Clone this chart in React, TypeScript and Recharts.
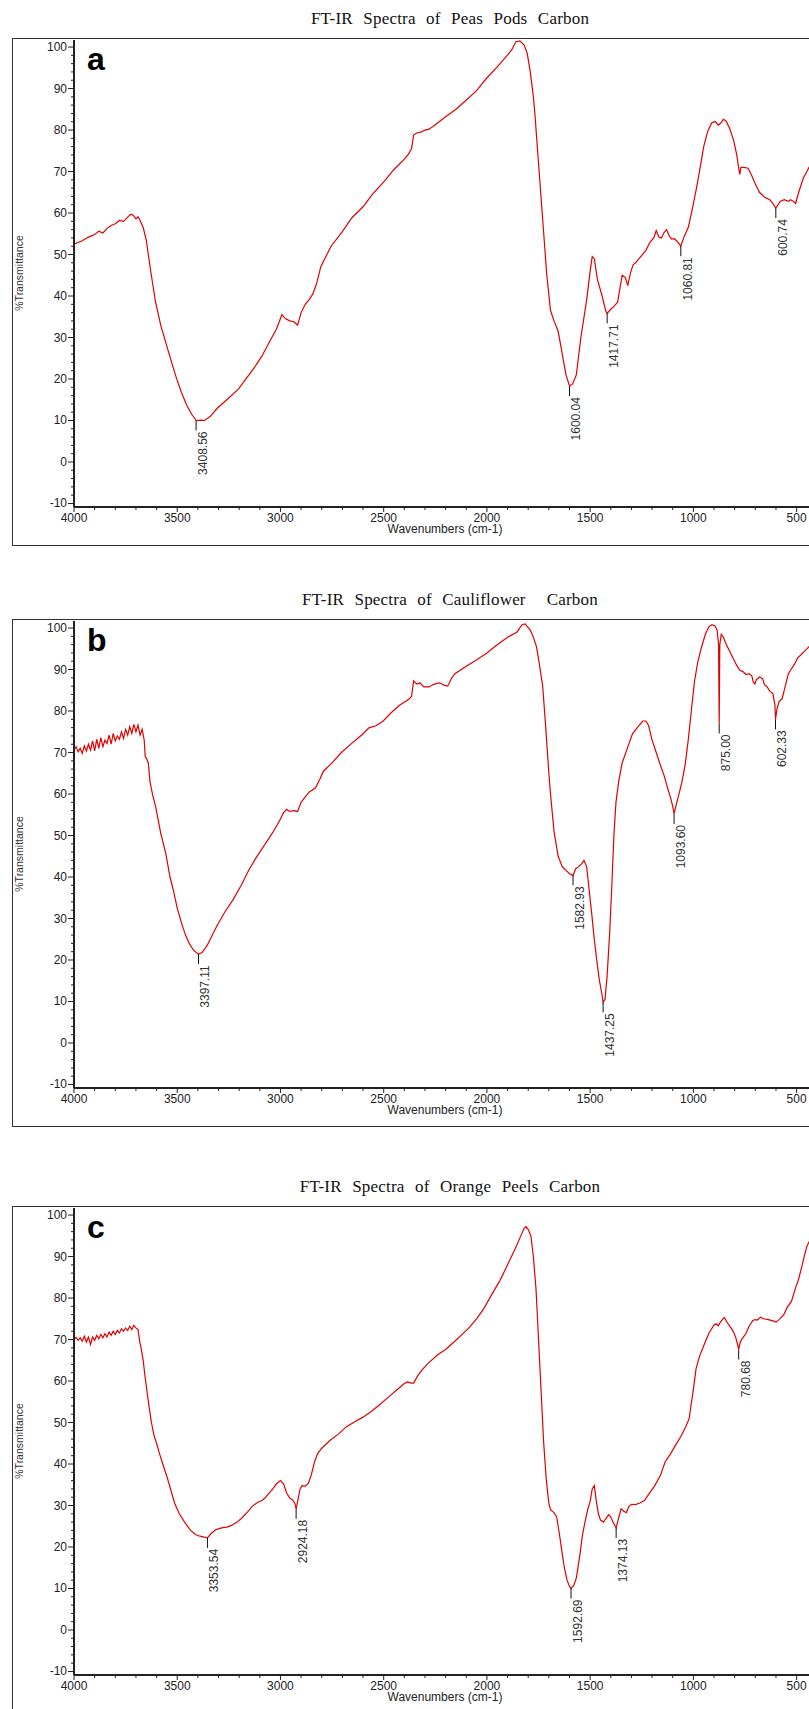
import React from 'react';
import { LineChart, Line, XAxis, YAxis, ReferenceDot } from 'recharts';

// Peas pods carbon
const peasWave = [4000, 3960, 3930, 3900, 3880, 3860, 3840, 3820, 3800, 3780, 3760, 3740, 3725, 3712, 3700, 3690, 3680, 3665, 3650, 3630, 3605, 3580, 3555, 3530, 3505, 3480, 3455, 3430, 3408.56, 3385, 3367, 3340, 3305, 3260, 3205, 3160, 3130, 3090, 3055, 3020, 2993, 2975, 2955, 2935, 2917, 2900, 2880, 2860, 2843, 2825, 2805, 2780, 2755, 2700, 2655, 2600, 2555, 2500, 2450, 2400, 2380, 2365, 2355, 2340, 2320, 2300, 2280, 2250, 2205, 2150, 2105, 2050, 2005, 1950, 1905, 1880, 1860, 1840, 1820, 1805, 1790, 1775, 1767, 1750, 1730, 1710, 1692, 1675, 1655, 1635, 1617, 1600.04, 1585, 1567, 1545, 1517, 1500, 1490, 1480, 1465, 1442, 1425, 1417.71, 1400, 1385, 1367, 1345, 1330, 1318, 1305, 1292, 1280, 1255, 1230, 1210, 1192, 1180, 1167, 1155, 1142, 1130, 1117, 1105, 1092, 1075, 1060.81, 1045, 1025, 1005, 985, 967, 950, 930, 910, 892, 880, 867, 855, 842, 825, 805, 790, 778, 775, 770, 755, 735, 717, 700, 680, 655, 630, 615, 600.74, 590, 580, 560, 540, 530, 515, 505, 490, 467, 450, 430];
const peasT = [52.5, 53.3, 54.2, 54.8, 55.6, 55.2, 56.3, 57.0, 57.4, 58.2, 58.0, 59.0, 59.7, 59.4, 58.6, 59.1, 58.2, 56.5, 53.5, 46.5, 38.5, 33, 28.7, 24.5, 20.4, 16.8, 13.8, 11.5, 10.0, 10.1, 10.0, 11.0, 13.0, 15.0, 17.5, 20.5, 22.5, 25.5, 28.8, 32, 35.5, 34.5, 34, 33.8, 33, 36, 38, 39.2, 40.5, 43, 47, 49.5, 52, 55.5, 58.8, 61.5, 64.5, 67.5, 70.5, 73, 74.2, 75.5, 78.8, 79.3, 79.5, 80.0, 80.2, 81.3, 83, 85, 87, 89.5, 92.3, 95.2, 97.8, 99.3, 101.3, 101.5, 100.5, 98.5, 94, 88, 83.5, 72, 58.5, 45, 36.5, 34, 31.5, 26, 21, 18.3, 18.8, 21, 30, 39, 46, 49.5, 49, 44, 40, 36.5, 35.8, 36.8, 37.5, 38.5, 45, 44.5, 42.5, 45.5, 47.5, 48, 49.5, 51, 53, 54, 55.8, 54.2, 54, 55.3, 56, 54.5, 53.7, 53.8, 53, 52, 54.3, 56.5, 61, 66, 71, 76, 79.8, 81.8, 82, 81.2, 81.7, 82.6, 82.2, 80.5, 77.5, 74, 70, 69.3, 71, 71, 70.8, 69, 67, 65, 63.8, 63.2, 62.3, 61.2, 62, 62.8, 63.2, 62.8, 63.2, 62.8, 62.3, 65, 68.5, 70, 72];
const peasPeaks = [3408.56, 1600.04, 1417.71, 1060.81, 600.74];

// Cauliflower carbon
const cauliWave = [4000, 3990, 3980, 3970, 3960, 3950, 3940, 3930, 3920, 3910, 3900, 3890, 3880, 3870, 3860, 3850, 3840, 3830, 3820, 3810, 3800, 3790, 3780, 3770, 3760, 3750, 3740, 3730, 3720, 3710, 3700, 3690, 3680, 3670, 3660, 3655, 3648, 3640, 3632, 3620, 3605, 3580, 3555, 3535, 3517, 3500, 3480, 3460, 3442, 3420, 3397.11, 3380, 3355, 3330, 3305, 3270, 3230, 3190, 3155, 3120, 3080, 3040, 3005, 2985, 2970, 2955, 2935, 2917, 2900, 2880, 2860, 2830, 2810, 2792, 2750, 2705, 2655, 2605, 2570, 2540, 2505, 2455, 2420, 2380, 2365, 2355, 2340, 2325, 2305, 2280, 2255, 2230, 2205, 2190, 2170, 2155, 2100, 2055, 2000, 1955, 1900, 1855, 1830, 1815, 1805, 1790, 1775, 1760, 1745, 1730, 1715, 1700, 1692, 1675, 1655, 1635, 1617, 1600, 1582.93, 1570, 1555, 1540, 1530, 1517, 1505, 1492, 1480, 1467, 1455, 1442, 1437.25, 1428, 1418, 1405, 1395, 1385, 1375, 1362, 1345, 1320, 1295, 1267, 1245, 1230, 1217, 1200, 1180, 1160, 1142, 1125, 1110, 1100, 1093.6, 1085, 1070, 1055, 1040, 1025, 1010, 995, 980, 960, 942, 925, 910, 895, 885, 878, 875, 872, 865, 855, 840, 820, 805, 790, 775, 760, 745, 730, 717, 710, 702, 695, 680, 665, 655, 645, 630, 615, 605, 602.33, 595, 585, 570, 555, 540, 525, 510, 495, 480, 460, 440, 425];
const cauliT = [70.6, 71.4, 70.2, 71.0, 69.8, 71.6, 70.4, 72.0, 70.6, 72.8, 70.4, 73.2, 71.0, 73.6, 71.4, 73.0, 72.2, 74.2, 72.0, 74.6, 72.8, 74.0, 73.2, 75.0, 73.4, 75.6, 74.2, 76.2, 74.6, 76.8, 75.0, 76.6, 74.2, 75.6, 73, 69, 68.5, 67.5, 63, 60, 57, 50.6, 45.6, 40, 36.4, 32.5, 29, 26, 24, 22.3, 21.4, 21.8, 23.5, 26, 28.5, 31.5, 34.5, 38, 41.5, 44.5, 47.5, 50.5, 53.5, 55.5, 56.3, 55.8, 56, 55.8, 58, 59.3, 60.5, 61.5, 63.5, 65.5, 67.5, 70, 72.2, 74.3, 76, 76.4, 77.5, 80, 81.5, 82.8, 83.5, 87.3, 86.5, 86.8, 85.8, 85.8, 86.5, 86.8, 86.2, 86, 88, 89, 90.8, 92.2, 94, 95.8, 97.8, 99, 100.8, 101, 100.4, 99.5, 97.8, 95.5, 91, 86, 76, 65, 60, 51, 45, 42.5, 41.6, 40.8, 40.4, 42, 42.5, 43.3, 44, 42.5, 37, 31, 25, 19.5, 15, 11.5, 9.8, 10.5, 16, 27, 38, 50, 58, 63, 67.5, 71, 74.5, 76.3, 77.6, 77.6, 76.5, 73, 70, 67, 64.5, 61.5, 59, 57, 55.2, 57, 60, 63, 67, 73, 80, 87, 91.5, 95.5, 98.5, 100.3, 100.8, 100.5, 99.5, 96, 77, 96, 98.5, 97.8, 96, 94, 92.5, 91, 89.8, 89.5, 88.8, 89, 88.5, 87, 86.5, 87.5, 88.2, 87.8, 86.3, 86, 84.8, 84.2, 81.5, 78, 80.5, 82.3, 83, 86, 89, 90.2, 91.3, 92.8, 93.5, 94.5, 95.5, 96];
const cauliPeaks = [3397.11, 1582.93, 1437.25, 1093.6, 875, 602.33];

// Orange peels carbon
const orangeWave = [4000, 3990, 3980, 3970, 3960, 3950, 3940, 3930, 3920, 3910, 3900, 3890, 3880, 3870, 3860, 3850, 3840, 3830, 3820, 3810, 3800, 3790, 3780, 3770, 3760, 3750, 3740, 3730, 3720, 3710, 3700, 3690, 3680, 3675, 3665, 3657, 3645, 3637, 3625, 3612, 3600, 3587, 3570, 3550, 3530, 3512, 3490, 3462, 3435, 3412, 3390, 3370, 3353.54, 3335, 3312, 3285, 3260, 3237, 3210, 3187, 3160, 3137, 3110, 3090, 3075, 3055, 3037, 3020, 3000, 2985, 2970, 2955, 2940, 2930, 2924.18, 2915, 2905, 2895, 2880, 2865, 2850, 2835, 2820, 2800, 2762, 2720, 2680, 2640, 2600, 2562, 2520, 2480, 2440, 2400, 2385, 2365, 2355, 2335, 2312, 2280, 2237, 2200, 2162, 2125, 2087, 2050, 2012, 1975, 1937, 1900, 1862, 1840, 1820, 1810, 1800, 1787, 1775, 1762, 1750, 1737, 1725, 1712, 1700, 1692, 1675, 1662, 1650, 1637, 1625, 1612, 1600, 1592.69, 1580, 1567, 1550, 1537, 1525, 1512, 1500, 1490, 1480, 1470, 1460, 1450, 1435, 1425, 1410, 1400, 1387, 1374.13, 1362, 1350, 1337, 1325, 1312, 1300, 1280, 1260, 1237, 1215, 1187, 1160, 1137, 1110, 1087, 1062, 1037, 1020, 1012, 1000, 987, 970, 950, 925, 900, 890, 880, 865, 850, 835, 820, 805, 795, 787, 780.68, 772, 762, 745, 730, 712, 700, 690, 675, 660, 637, 615, 600, 585, 562, 545, 525, 505, 492, 475, 462, 450, 435];
const orangeT = [70.0, 70.5, 69.8, 70.4, 69.6, 70.8, 69.4, 70.6, 68.8, 70.6, 69.8, 71.0, 70.2, 71.2, 70.4, 71.4, 70.6, 71.8, 71.0, 72.0, 71.2, 72.2, 71.6, 72.6, 72.0, 72.8, 72.2, 73.2, 72.4, 73.4, 72.8, 72.4, 69, 68, 65, 61.5, 57, 54, 50, 46.8, 45, 42.7, 40, 37, 33.5, 30.5, 28, 25.8, 24, 23, 22.6, 22.4, 22.2, 23.3, 24.2, 24.6, 24.8, 25.2, 26, 27, 28.4, 29.8, 30.8, 31.2, 31.8, 33, 34, 35.2, 36, 35.2, 33, 31.8, 31.3, 30.5, 29.2, 31.5, 34, 34.8, 34.7, 35.3, 37.5, 40.5, 42.5, 43.8, 45.6, 47.2, 49, 50.2, 51.3, 52.6, 54.3, 56, 57.7, 59.4, 59.8, 59.5, 59.5, 61.3, 62.8, 64.5, 66.4, 67.6, 69.3, 71, 72.8, 75, 77.7, 81, 84.2, 88, 92, 94.5, 96.8, 97.2, 96.5, 95, 90, 82, 70, 57, 45, 36, 30.5, 29, 28.3, 27.2, 23.5, 19, 15, 12, 10.5, 10, 10.7, 12.5, 18, 23, 26, 29, 31, 34, 34.8, 31, 28, 26.5, 26, 26.8, 27.8, 27.2, 25.8, 24.6, 27, 29.2, 28.6, 28.3, 29.8, 30.3, 30.2, 30.6, 31.2, 32.8, 34.8, 37.2, 40.5, 42.5, 44.5, 46.5, 49, 51, 54, 58, 63, 66, 68.5, 71.5, 73.5, 73.8, 73.3, 74.5, 75.3, 74, 73, 71.8, 70.5, 69, 67.6, 69.5, 70.3, 71.5, 73.2, 74.6, 74.8, 74.7, 75.4, 75, 74.8, 74.5, 74.2, 74.8, 76, 77.8, 79.2, 82.5, 84.3, 87.5, 90.3, 92.5, 94];
const orangePeaks = [3353.54, 2924.18, 1592.69, 1374.13, 780.68];

const xMajor = [4000, 3500, 3000, 2500, 2000, 1500, 1000, 500];
const yMajor = [-10, 0, 10, 20, 30, 40, 50, 60, 70, 80, 90, 100];
const xTicks: number[] = [];
for (let v = 500; v <= 4000; v += 100) xTicks.push(v);
const yTicks: number[] = [];
for (let v = -10; v <= 100; v += 2) yTicks.push(v);

const SANS = '"Liberation Sans", Arial, sans-serif';
const SERIF = '"Liberation Serif", "Times New Roman", serif';
const AXIS = '#222';

const XTick = (props: any) => {
  const { x, y, payload } = props;
  const major = xMajor.includes(payload.value);
  return (
    <g>
      <line x1={x} y1={y} x2={x} y2={y + (major ? 5 : 3)} stroke={AXIS} strokeWidth={1} />
      {major && (
        <text x={x} y={y + 15} textAnchor="middle" fontSize={12} fill={AXIS} fontFamily={SANS}>
          {payload.value}
        </text>
      )}
    </g>
  );
};

const YTick = (props: any) => {
  const { x, y, payload } = props;
  const major = yMajor.includes(payload.value);
  return (
    <g>
      <line x1={x - (major ? 6 : 3)} y1={y} x2={x} y2={y} stroke={AXIS} strokeWidth={1} />
      {major && (
        <text x={x - 7} y={y + 4} textAnchor="end" fontSize={12} fill={AXIS} fontFamily={SANS}>
          {payload.value}
        </text>
      )}
    </g>
  );
};

// short tick under the peak, then the wavenumber written bottom-to-top
const PeakMark = (props: any) => {
  const { cx, cy, text } = props;
  const ty = cy + 11;
  const tx = cx + 11;
  return (
    <g>
      <line x1={cx} y1={cy} x2={cx} y2={cy + 10} stroke="#111" strokeWidth={1} />
      <text x={tx} y={ty} transform={`rotate(-90 ${tx} ${ty})`} textAnchor="end" fontSize={12} fill="#333" fontFamily={SANS}>
        {text}
      </text>
    </g>
  );
};

interface PanelProps {
  top: number;
  title: string;
  letter: string;
  wave: number[];
  trans: number[];
  peaks: number[];
}

const Panel: React.FC<PanelProps> = ({ top, title, letter, wave, trans, peaks }) => {
  const data = wave.map((w, i) => ({ w, t: trans[i] }));
  return (
    <>
      <div style={{ position: 'absolute', left: 0, top: top - 29, width: 900, textAlign: 'center', fontFamily: SERIF, fontSize: 17, letterSpacing: 0.2, wordSpacing: 6, color: '#111', lineHeight: '20px', whiteSpace: 'pre' }}>
        {title}
      </div>
      <div style={{ position: 'absolute', left: 12, top, width: 830, height: 508, border: '1.5px solid #333', boxSizing: 'border-box' }} />
      <div style={{ position: 'absolute', left: 0, top }}>
        <LineChart width={809} height={511} data={data} margin={{ top: 2, right: 0, bottom: 0, left: 0 }}>
          <XAxis
            type="number"
            dataKey="w"
            domain={[440, 4000]}
            reversed
            allowDataOverflow
            ticks={xTicks}
            interval={0}
            tick={(p: any) => <XTick {...p} />}
            tickLine={false}
            tickSize={0}
            tickMargin={0}
            height={42}
            axisLine={{ stroke: AXIS, strokeWidth: 2 }}
          />
          <YAxis
            type="number"
            domain={[-10.85, 101.7]}
            allowDataOverflow
            ticks={yTicks}
            interval={0}
            tick={(p: any) => <YTick {...p} />}
            tickLine={false}
            tickSize={0}
            tickMargin={0}
            width={74}
            axisLine={{ stroke: AXIS, strokeWidth: 2 }}
          />
          <Line type="linear" dataKey="t" stroke="#e00000" strokeWidth={1.2} dot={false} isAnimationActive={false} />
          {peaks.map((p) => (
            <ReferenceDot
              key={p}
              x={p}
              y={trans[wave.indexOf(p)]}
              r={0}
              shape={(s: any) => <PeakMark {...s} text={p.toFixed(2)} />}
            />
          ))}
        </LineChart>
      </div>
      <div style={{ position: 'absolute', left: 87, top: top + 5, fontFamily: SANS, fontWeight: 'bold', fontSize: 32, lineHeight: 1, color: '#000' }}>
        {letter}
      </div>
      <div style={{ position: 'absolute', left: 19, top: top + 235, width: 0, height: 0 }}>
        <div style={{ position: 'absolute', left: -60, top: -7, width: 120, textAlign: 'center', transform: 'rotate(-90deg)', fontFamily: SANS, fontSize: 10.5, color: '#333', lineHeight: '14px' }}>
          %Transmittance
        </div>
      </div>
      <div style={{ position: 'absolute', left: 345, top: top + 484, width: 200, textAlign: 'center', fontFamily: SANS, fontSize: 12, color: '#222', lineHeight: '14px' }}>
        Wavenumbers (cm-1)
      </div>
    </>
  );
};

export default function App() {
  return (
    <div style={{ position: 'absolute', left: 0, top: 0, width: 809, height: 1709, overflow: 'hidden', background: '#fff' }}>
      <Panel top={38} title="FT-IR Spectra of Peas Pods Carbon" letter="a" wave={peasWave} trans={peasT} peaks={peasPeaks} />
      <Panel top={619} title="FT-IR Spectra of Cauliflower  Carbon" letter="b" wave={cauliWave} trans={cauliT} peaks={cauliPeaks} />
      <Panel top={1206} title="FT-IR Spectra of Orange Peels Carbon" letter="c" wave={orangeWave} trans={orangeT} peaks={orangePeaks} />
    </div>
  );
}
